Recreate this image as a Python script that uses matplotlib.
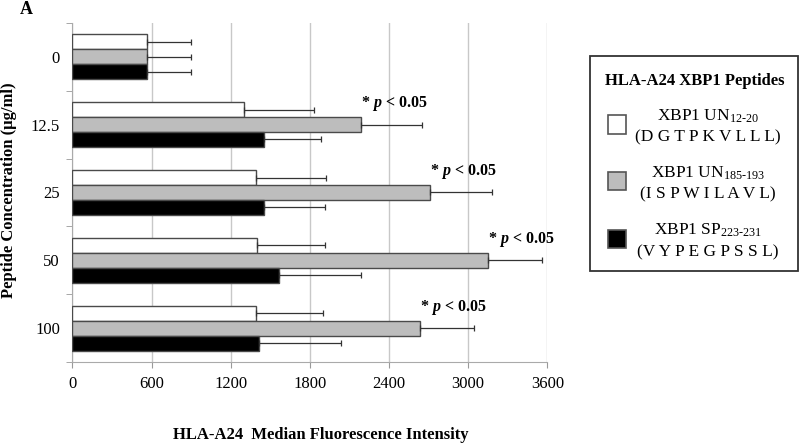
import matplotlib
matplotlib.use('Agg')
import matplotlib.pyplot as plt
import numpy as np
from matplotlib.patches import Rectangle

plt.rcParams['font.family'] = 'Liberation Serif'
plt.rcParams['mathtext.fontset'] = 'custom'
plt.rcParams['mathtext.rm'] = 'Liberation Serif'
plt.rcParams['mathtext.it'] = 'Liberation Serif:italic:bold'
plt.rcParams['mathtext.bf'] = 'Liberation Serif:bold'

# data
conc = ['0', '12.5', '25', '50', '100']
un12 = [565, 1297, 1388, 1401, 1388]
un12_err = [335, 532, 534, 516, 514]
un185 = [565, 2188, 2714, 3152, 2638]
un185_err = [335, 460, 469, 405, 405]
sp223 = [565, 1454, 1454, 1565, 1418]
sp223_err = [335, 433, 463, 623, 618]
sig = [False, True, True, True, True]

legend_names = [r'XBP1 UN$_{\mathrm{12\text{-}20}}$',
                r'XBP1 UN$_{\mathrm{185\text{-}193}}$',
                r'XBP1 SP$_{\mathrm{223\text{-}231}}$']
legend_seqs = ['(D G T P K V L L L)', '(I S P W I L A V L)', '(V Y P E G P S S L)']
colors = ['white', '#bdbdbd', 'black']

fig = plt.figure(figsize=(8, 4.44), dpi=100)
ax = fig.add_axes([0.0906, 0.184, 0.5935, 0.765])

y = np.arange(len(conc))
h = 0.22
series = [(un12, un12_err), (un185, un185_err), (sp223, sp223_err)]
for k, (vals, errs) in enumerate(series):
    off = (k - 1) * h
    ax.barh(y + off, vals, height=h, color=colors[k], edgecolor='#4a4a4a', linewidth=1,
            xerr=[np.zeros(len(vals)), errs],
            error_kw=dict(ecolor='#333333', elinewidth=0.9, capsize=2.5, capthick=0.9),
            zorder=3)

for i in range(len(conc)):
    if sig[i]:
        ax.text(un185[i], i - 0.31, '* $p$ < 0.05', fontweight='bold', fontsize=11.5,
                va='center', ha='left', zorder=4)

ax.set_xlim(0, 3600)
ax.set_xticks(range(0, 3601, 600))
ax.set_ylim(4.5, -0.5)
ax.set_yticks(y)
ax.set_yticklabels(conc)
ax.set_yticks(np.arange(-0.5, 4.6, 1), minor=True)
ax.tick_params(axis='y', which='major', length=0, pad=9, labelsize=12)
ax.tick_params(axis='y', which='minor', length=4, color='#999999')
ax.tick_params(axis='x', length=4, color='#999999', labelsize=12, pad=6)
ax.grid(axis='x', color='#c8c8c8', lw=1, zorder=0)
ax.set_axisbelow(True)
for s in ['top', 'right']:
    ax.spines[s].set_visible(False)
for s in ['left', 'bottom']:
    ax.spines[s].set_color('#aaaaaa')

fig.text(0.011, 0.572, 'Peptide Concentration (μg/ml)', rotation=90, fontweight='bold',
         fontsize=12, va='center', ha='center')
fig.text(0.401, 0.02, 'HLA-A24  Median Fluorescence Intensity', fontweight='bold',
         fontsize=12, va='center', ha='center')
fig.text(0.033, 0.978, 'A', fontweight='bold', fontsize=13, va='center', ha='center')

# legend box
fig.patches.append(Rectangle((0.738, 0.390), 0.2595, 0.4835, transform=fig.transFigure,
                             fill=False, edgecolor='#333333', lw=1.3))
fig.text(0.869, 0.818, 'HLA-A24 XBP1 Peptides', fontweight='bold', fontsize=12,
         ha='center', va='center')
H = 444.0
sq_px = [124.5, 181.0, 239.0]
base1_px = [120.7, 177.5, 235.0]
base2_px = [141.7, 198.5, 256.0]
sw, sh = 0.0225, 18 / H
for k in range(3):
    fig.patches.append(Rectangle((0.771 - sw / 2, 1 - sq_px[k] / H - sh / 2), sw, sh,
                                 transform=fig.transFigure, facecolor=colors[k],
                                 edgecolor='#555555', lw=1.2))
    fig.text(0.885, 1 - base1_px[k] / H, legend_names[k], fontsize=12.5,
             ha='center', va='baseline')
    fig.text(0.885, 1 - base2_px[k] / H, legend_seqs[k], fontsize=12.5,
             ha='center', va='baseline')

fig.savefig('out.png', dpi=100)
